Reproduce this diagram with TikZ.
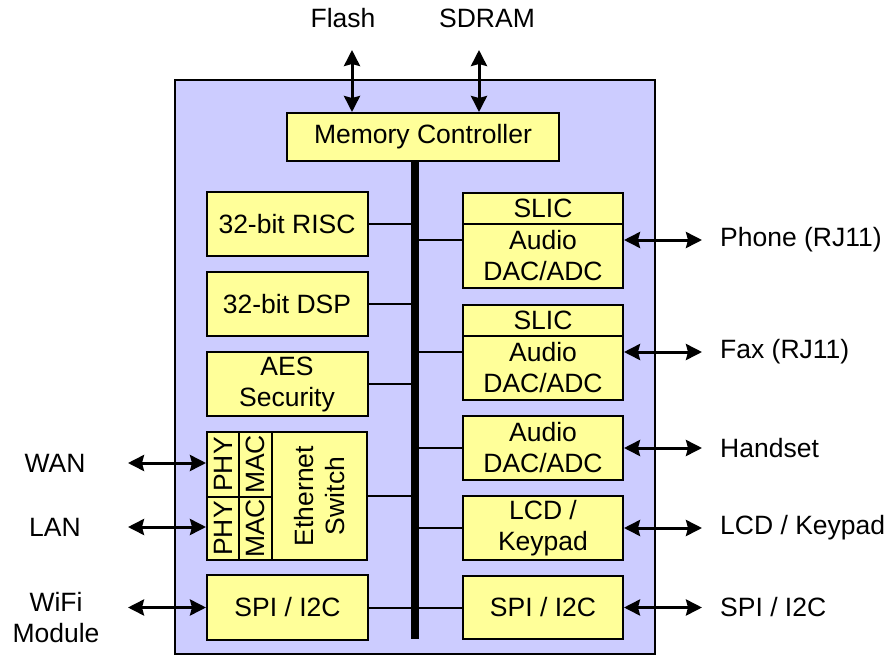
\documentclass[tikz,border=0pt]{standalone}
\usepackage{fontspec}
\setmainfont{Liberation Sans}
\usetikzlibrary{arrows.meta}
\definecolor{chipblue}{HTML}{CCCCFF}
\definecolor{boxyellow}{HTML}{FFFF99}
\tikzstyle{chip} = [draw, line width=2pt, fill=chipblue, inner sep=0pt]
\tikzstyle{block} = [draw, line width=2pt, fill=boxyellow, align=center, inner sep=0pt, minimum width=161pt, minimum height=64pt]
\tikzstyle{cell} = [draw, line width=2pt, fill=boxyellow, align=center, inner sep=0pt, rotate=90]
\tikzstyle{label} = [inner sep=0pt, align=center]
\tikzstyle{io} = [{Stealth[length=16pt,width=16pt,inset=2pt]}-{Stealth[length=16pt,width=16pt,inset=2pt]}, line width=3pt]
\tikzstyle{link} = [line width=2pt]
\tikzstyle{bus} = [line width=8pt]

\begin{document}
\begin{tikzpicture}[x=1pt, y=-1pt, font=\fontsize{26.5}{31}\selectfont]
    \useasboundingbox (0,0) rectangle (887,656);
    \draw (415,367) node[chip, minimum width=480pt, minimum height=574pt] (chip) {};
    % memory side
    \draw (423,137) node[block, minimum width=272pt, minimum height=48pt] (memctl) {Memory Controller};
    \draw (343,18) node[label] (flash) {Flash};
    \draw (487,18) node[label] (sdram) {SDRAM};
    \coordinate (flashend) at (352,50);
    \coordinate (sdramend) at (479,50);
    \draw[io] (flashend) -- (memctl.north -| flashend);
    \draw[io] (sdramend) -- (memctl.north -| sdramend);
    % left column
    \draw (287,224) node[block] (risc) {32-bit RISC};
    \draw (287,304) node[block] (dsp) {32-bit DSP};
    \draw (287,384) node[block] (aes) {AES\\Security};
    \draw (223,464.5) node[cell, minimum width=65pt, minimum height=32pt] (phyA) {PHY};
    \draw (255.5,464.5) node[cell, minimum width=65pt, minimum height=33pt] (macA) {MAC};
    \draw (223,528.5) node[cell, minimum width=63pt, minimum height=32pt] (phyB) {PHY};
    \draw (255.5,528.5) node[cell, minimum width=63pt, minimum height=33pt] (macB) {MAC};
    \draw (319.5,496) node[cell, minimum width=128pt, minimum height=95pt] (ethsw) {Ethernet\\Switch};
    \draw (287.5,607.5) node[block, minimum height=65pt] (lspi) {SPI / I2C};
    % right column
    \draw (543,208.5) node[block, minimum width=160pt, minimum height=31pt] (slicA) {SLIC};
    \draw (543,256) node[block, minimum width=160pt] (audioA) {Audio\\DAC/ADC};
    \draw (543,320.5) node[block, minimum width=160pt, minimum height=31pt] (slicB) {SLIC};
    \draw (543,368) node[block, minimum width=160pt] (audioB) {Audio\\DAC/ADC};
    \draw (543,448) node[block, minimum width=160pt] (hsaudio) {Audio\\DAC/ADC};
    \draw (543,528) node[block, minimum width=160pt] (lcd) {LCD /\\Keypad};
    \draw (543,607.5) node[block, minimum width=160pt, minimum height=63pt] (rspi) {SPI / I2C};
    % bus
    \coordinate (busend) at (415,639);
    \draw[bus] (busend |- memctl.south) -- (busend);
    \draw[link] (risc.east) -- (risc.east -| busend);
    \draw[link] (dsp.east) -- (dsp.east -| busend);
    \draw[link] (aes.east) -- (aes.east -| busend);
    \draw[link] (ethsw.south) -- (ethsw.south -| busend);
    \draw[link] (lspi.east) -- (rspi.west);
    % outside labels
    \draw (720,240) node[label, anchor=west] (phone) {Phone (RJ11)};
    \draw (720,352) node[label, anchor=west] (fax) {Fax (RJ11)};
    \draw (720,448) node[label, anchor=west] (handset) {Handset};
    \draw (720,528) node[label, anchor=west] (keypad) {LCD / Keypad};
    \draw (720,607.5) node[label, anchor=west] (spiout) {SPI / I2C};
    \draw (55,463) node[label] (wan) {WAN};
    \draw (55,527) node[label] (lan) {LAN};
    \draw (56,618) node[label] (wifi) {WiFi\\Module};
    \draw[link] (busend |- phone) -- (audioA.west |- phone);
    \draw[link] (busend |- fax) -- (audioB.west |- fax);
    \draw[link] (busend |- handset) -- (hsaudio.west);
    \draw[link] (busend |- keypad) -- (lcd.west);
    \draw[io] (audioA.east |- phone) -- ([xshift=-18pt]phone.west);
    \draw[io] (audioB.east |- fax) -- ([xshift=-18pt]fax.west);
    \draw[io] (hsaudio.east) -- ([xshift=-18pt]handset.west);
    \draw[io] (lcd.east) -- ([xshift=-18pt]keypad.west);
    \draw[io] (rspi.east) -- ([xshift=-18pt]spiout.west);
    \coordinate (wanend) at (128,463);
    \coordinate (lanend) at (128,527);
    \coordinate (wifiend) at (128,607.5);
    \draw[io] (wanend) -- (phyA.north |- wanend);
    \draw[io] (lanend) -- (phyB.north |- lanend);
    \draw[io] (wifiend) -- (lspi.west);
\end{tikzpicture}
\end{document}
